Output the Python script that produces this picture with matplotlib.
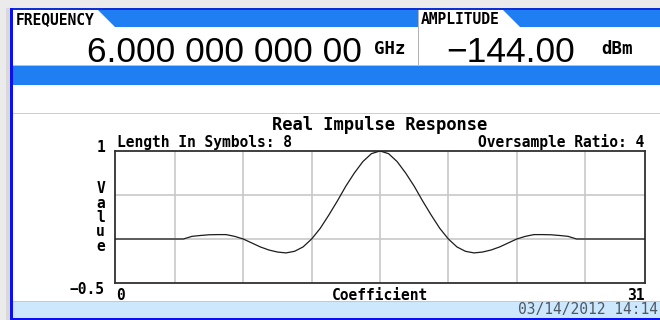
import matplotlib
matplotlib.use("Agg")
import matplotlib.pyplot as plt
from matplotlib import font_manager
from matplotlib.patches import Rectangle, Polygon

# Readout values shown in the header
Frequency_text = "6.000 000 000 00"
Frequency_unit = "GHz"
Amplitude_text = "\u2212144.00"
Amplitude_unit = "dBm"
Date_text = "03/14/2012 14:14"

# Filter settings
Title = "Real Impulse Response"
Length_In_Symbols = 8
Oversample_Ratio = 4
Y_top = 1
Y_bottom = -0.5
X_first = 0
X_last = 31

# Impulse response, every half coefficient from 0 to 31
Coefficient = [i * 0.5 for i in range(63)]
Value = [
    0, 0, 0, 0, 0, 0, 0, 0,                      # 0 .. 3.5
    0, 0.03, 0.04, 0.048, 0.05, 0.05, 0.03, 0.0,  # 4 .. 7.5
    -0.045, -0.09, -0.125, -0.148, -0.158, -0.14, -0.09, 0.0,  # 8 .. 11.5
    0.12, 0.27, 0.43, 0.60, 0.75, 0.88, 0.97, 1.0,  # 12 .. 15.5
    0.97, 0.88, 0.75, 0.60, 0.43, 0.27, 0.12, 0.0,  # 16 .. 19.5
    -0.09, -0.14, -0.158, -0.148, -0.125, -0.09, -0.045, 0.0,  # 20 .. 23.5
    0.03, 0.05, 0.05, 0.048, 0.04, 0.03, 0.0,     # 24 .. 27
    0, 0, 0, 0, 0, 0, 0, 0,                       # 27.5 .. 31
]

# Symbol boundaries and value gridlines
Grid_x = [3.5, 7.5, 11.5, 15.5, 19.5, 23.5, 27.5]
Grid_y = [0, 0.5]

MONO = "DejaVu Sans Mono"


def pick_font(names, default):
    for name in names:
        try:
            font_manager.findfont(name, fallback_to_default=False)
            return name
        except ValueError:
            continue
    return default


# condensed face for the big readout if there is one, else Arial-like
NARROW = pick_font(["Liberation Sans Narrow", "Liberation Sans"], "DejaVu Sans")
BIG_SIZE = {"Liberation Sans Narrow": 29.5, "Liberation Sans": 25.5}.get(NARROW, 23)

W, H = 660, 320
fig = plt.figure(figsize=(W / 100, H / 100), dpi=100)

# background layer in pixel coordinates
bg = fig.add_axes([0, 0, 1, 1], zorder=0)
bg.set_xlim(0, W)
bg.set_ylim(H, 0)
bg.axis("off")


def box(x0, y0, x1, y1, color):
    bg.add_patch(Rectangle((x0, y0), x1 - x0, y1 - y0, facecolor=color,
                           edgecolor="none", linewidth=0))


box(0, 0, W, H, "white")
box(0, 0, W, 8, "#ebebeb")
box(0, 0, 10, H, "#ebebeb")
box(6, 8, 10, H, "#d9d9d9")

# header band with the two tabs
BAND = "#1f7ff2"
box(12, 10, W, 27, BAND)
bg.add_patch(Polygon([(12, 10), (98, 10), (115, 27), (12, 27)],
                     facecolor="white", edgecolor="none"))
bg.add_patch(Polygon([(419, 10), (503, 10), (520, 27), (419, 27)],
                     facecolor="white", edgecolor="none"))
box(417.5, 10, 419, 65, "#b4b4b4")
box(12, 64.5, W, 66, "#c0c0c0")
box(12, 66, W, 85, BAND)
box(12, 112.5, W, 114, "#cdcdcd")

# status bar
box(12, 300.5, W, 302, "#c8c8c8")
box(12, 302, W, 317.5, "#cde8fd")

# frame
box(10, 7.5, W, 10, "#0c2fd6")
box(10, 7.5, 12.5, H, "#0a10f0")
box(10, 317.5, W, H, "#0a10f0")

# header texts
bg.text(16, 20, "FREQUENCY", family=MONO, weight="bold", fontsize=10.5,
        ha="left", va="center", color="black")
bg.text(421, 20, "AMPLITUDE", family=MONO, weight="bold", fontsize=10.5,
        ha="left", va="center", color="black")
bg.text(362, 61.5, Frequency_text, family=NARROW, fontsize=BIG_SIZE,
        ha="right", va="baseline", color="black")
bg.text(575, 61.5, Amplitude_text, family=NARROW, fontsize=BIG_SIZE,
        ha="right", va="baseline", color="black")
bg.text(390, 49.5, Frequency_unit, family=MONO, weight="bold", fontsize=12.5,
        ha="center", va="center", color="black")
bg.text(617.5, 49.5, Amplitude_unit, family=MONO, weight="bold", fontsize=12.5,
        ha="center", va="center", color="black")

# chart texts
bg.text(380, 130.5, Title, family=MONO, fontsize=12.3, weight="bold",
        ha="center", va="baseline", color="black")
bg.text(117, 146.5, f"Length In Symbols: {Length_In_Symbols}", family=MONO,
        weight="bold", fontsize=10.5, ha="left", va="baseline", color="black")
bg.text(644, 146.5, f"Oversample Ratio: {Oversample_Ratio}", family=MONO,
        weight="bold", fontsize=10.5, ha="right", va="baseline", color="black")
bg.text(105, 152.5, f"{Y_top}", family=MONO, weight="bold", fontsize=10.5,
        ha="right", va="baseline", color="black")
bg.text(105, 294, f"{Y_bottom}".replace("-", "\u2212"), family=MONO,
        weight="bold", fontsize=10.5, ha="right", va="baseline", color="black")
for i, ch in enumerate("Value"):
    bg.text(100.5, 193 + i * 14.5, ch, family=MONO, weight="bold",
            fontsize=10.5, ha="center", va="baseline", color="black")
bg.text(116, 300, f"{X_first}", family=MONO, weight="bold", fontsize=10.5,
        ha="left", va="baseline", color="black")
bg.text(380, 300, "Coefficient", family=MONO, weight="bold", fontsize=10.5,
        ha="center", va="baseline", color="black")
bg.text(645, 300, f"{X_last}", family=MONO, weight="bold", fontsize=10.5,
        ha="right", va="baseline", color="black")
bg.text(658, 309.5, Date_text, family=MONO, fontsize=10.5,
        ha="right", va="center", color="#4c5864")

# impulse response plot
ax = fig.add_axes([115 / W, 1 - 283 / H, 530 / W, 132 / H], zorder=2)
ax.set_xlim(X_first, X_last)
ax.set_ylim(Y_bottom, Y_top)
for gx in Grid_x:
    ax.axvline(gx, color="#c8c8c8", linewidth=1.2, zorder=1)
for gy in Grid_y:
    ax.axhline(gy, color="#c8c8c8", linewidth=1.2, zorder=1)
ax.plot(Coefficient, Value, color="#1c1c1c", linewidth=0.9, zorder=3)
ax.set_xticks([])
ax.set_yticks([])
for spine in ax.spines.values():
    spine.set_color("#303030")
    spine.set_linewidth(1.3)

fig.savefig("out.png", dpi=100)
